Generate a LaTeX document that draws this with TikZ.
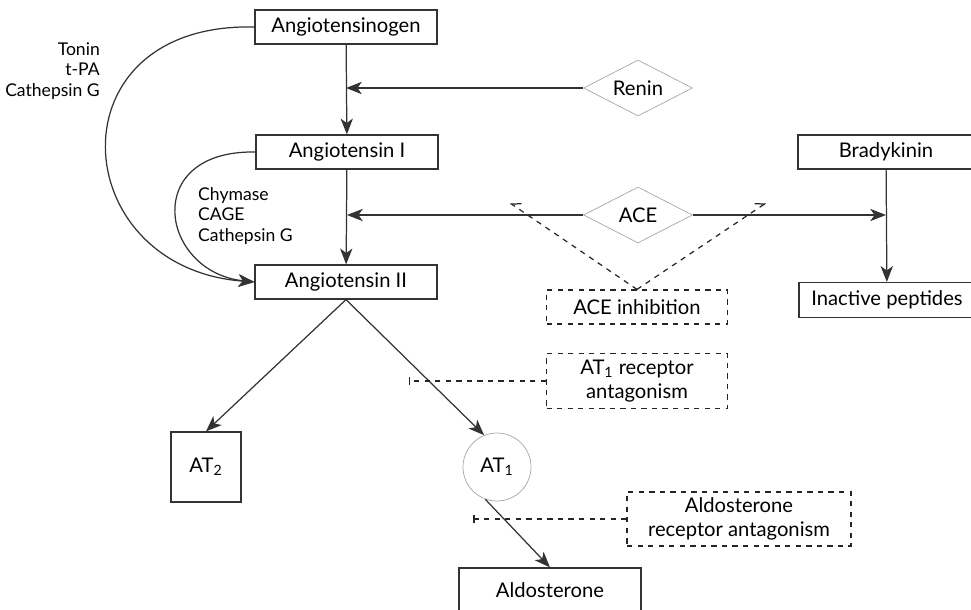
\documentclass[tikz,border=0pt]{standalone}
\usepackage{fontspec}
\setmainfont{Lato}
\usetikzlibrary{%
        arrows.meta,%
        shapes.geometric%
    }

\begin{document}
\begin{tikzpicture}[
        x=0.02cm, y=-0.02cm,
        font=\fontsize{11.5}{13.5}\selectfont,
        box/.style={draw=black!80,line width=.7pt,minimum width=3.64cm,
                    minimum height=0.68cm,inner sep=0pt},
        dbox/.style={draw=black!85,dashed,line width=.7pt,minimum width=3.62cm,
                    inner sep=0pt,align=center},
        enzyme/.style={draw=black!35,diamond,aspect=2,minimum width=2.18cm,
                    minimum height=1.12cm,inner sep=0pt},
        arr/.style={draw=black!80,line width=.7pt,-{Stealth[length=9pt,width=7pt,inset=2.5pt]}},
        block/.style={dashed,draw=black!85,line width=.7pt,-{Bar[width=5pt,line width=.7pt]}},
        hook/.style={dashed,draw=black!85,line width=.7pt,
                    -{Straight Barb[harpoon,length=4.5pt,width=6.6pt,line width=.7pt]}},
        small/.style={font=\fontsize{10}{11.6}\selectfont}
        ]

        % Frame
        \useasboundingbox (0,0) rectangle (971,609);
        \clip (0,0) rectangle (971,609);

        % Main cascade
        \node[box] (agen) at (346,27) {Angiotensinogen};
        \node[box] (ang1) at (347,152) {Angiotensin I};
        \node[box] (ang2) at (346,282) {Angiotensin II};

        % Enzymes
        \node[enzyme] (renin) at (638,88) {Renin};
        \node[enzyme] (ace) at (638,215) {ACE};

        % Kinin branch
        \node[box,minimum width=3.52cm] (brady) at (886,152) {Bradykinin};
        \node[box,minimum width=3.52cm,minimum height=0.7cm] (inact) at (887,300) {Inactive peptides};

        % Drug actions
        \node[dbox,minimum height=0.68cm] (aceinh) at (637,307) {ACE inhibition};
        \node[dbox,minimum height=1.1cm] (at1ant) at (637,381)
            {AT\textsubscript{1} receptor\\antagonism};
        \node[dbox,minimum width=4.48cm,minimum height=1.08cm] (aldant) at (739,519)
            {Aldosterone\\receptor antagonism};

        % Receptors
        \node[draw=black!80,line width=.7pt,minimum size=1.4cm,inner sep=0pt] (at2) at (206,467) {AT\textsubscript{2}};
        \node[draw=black!35,circle,minimum size=1.36cm,inner sep=0pt] (at1) at (497,467) {AT\textsubscript{1}};
        \node[box,minimum height=0.88cm] (aldo) at (550,590) {Aldosterone};

        % Enzyme labels
        \node[small,align=right,anchor=east] (tonin) at (106,71) {Tonin\\t-PA\\Cathepsin G};
        \node[small,align=left,anchor=west] (chym) at (192,216) {Chymase\\CAGE\\Cathepsin G};

        % Conversions
        \draw[arr] (agen) -- (ang1);
        \draw[arr] (ang1) -- (ang2);
        \draw[arr] (renin.west) -- (renin.west -| agen.south);
        \draw[arr] (ace.west) -- (ace.west -| ang1.south);
        \draw[arr] (ace.east) -- (ace.east -| brady.south);
        \draw[arr] (brady) -- (inact);

        % Alternative pathways
        \draw[arr] (agen.west) .. controls (50,22) and (65,268) .. (ang2.west);
        \draw[arr] (ang1.west) .. controls (140,150) and (160,272) .. (ang2.west);

        % Receptor arrows
        \draw[arr] (ang2.south) -- (at2.north);
        \draw[arr] (ang2.south) -- (at1.112);
        \draw[arr] (at1.250) -- (aldo.north);

        % Inhibitions
        \coordinate (aceL) at (510,203);
        \coordinate (aceR) at (766,203);
        \draw[hook,-{Straight Barb[harpoon,swap,length=4.5pt,width=6.6pt,line width=.7pt]}]
            (aceinh.north) -- (aceL);
        \draw[hook] (aceinh.north) -- (aceR);
        \draw[block] (at1ant.west) -- ++(-137,0);
        \draw[block] (aldant.west) -- ++(-153,0);
    \end{tikzpicture}
\end{document}
